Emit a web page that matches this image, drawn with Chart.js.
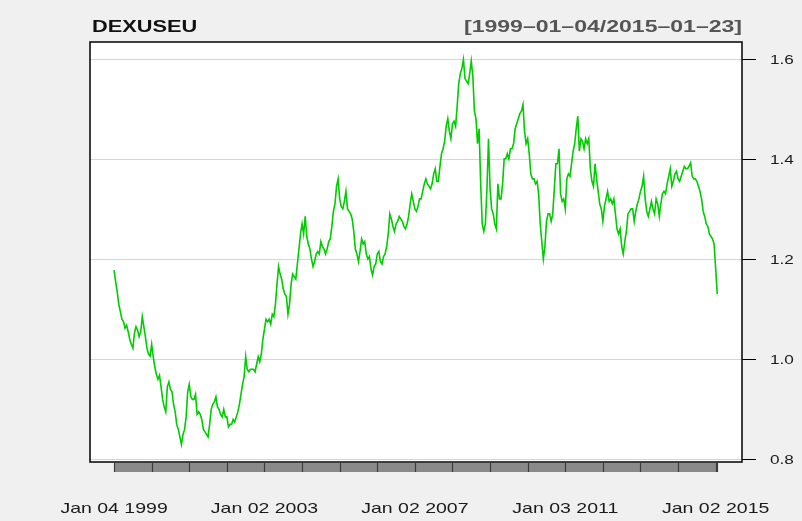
<!DOCTYPE html>
<html>
<head>
<meta charset="utf-8">
<script src="https://cdn.jsdelivr.net/npm/chart.js@4.4.1/dist/chart.umd.min.js"></script>
<style>
  body { margin: 0; background: #f0f0f0; }
  #wrap { width: 802px; height: 521px; }
</style>
</head>
<body>
<div id="wrap"><canvas id="myChart" width="802" height="521"></canvas></div>
<script>
// DEXUSEU, two readings per month (first half, second half)
const rate1999 = [1.178,1.155,1.135,1.110,1.095,1.080,1.075,1.062,1.068,1.055,1.040,1.030,1.022,1.052,1.065,1.058,1.045,1.055,1.085,1.065,1.045,1.022,1.010,1.006];
const rate2000 = [1.030,1.005,0.985,0.970,0.960,0.968,0.945,0.920,0.905,0.895,0.945,0.955,0.940,0.935,0.910,0.895,0.870,0.860,0.845,0.830,0.850,0.860,0.885,0.935];
const rate2001 = [0.950,0.925,0.920,0.920,0.930,0.890,0.895,0.890,0.880,0.860,0.855,0.850,0.845,0.870,0.900,0.910,0.915,0.925,0.905,0.900,0.890,0.885,0.900,0.885];
const rate2002 = [0.885,0.865,0.870,0.870,0.880,0.875,0.885,0.895,0.910,0.930,0.950,0.965,1.005,0.980,0.975,0.980,0.980,0.980,0.975,0.990,1.005,0.995,1.010,1.040];
const rate2003 = [1.060,1.080,1.075,1.080,1.070,1.090,1.085,1.110,1.150,1.185,1.170,1.160,1.140,1.130,1.125,1.090,1.110,1.150,1.170,1.165,1.160,1.190,1.220,1.250];
const rate2004 = [1.270,1.250,1.285,1.245,1.230,1.220,1.200,1.185,1.195,1.210,1.215,1.210,1.235,1.225,1.220,1.210,1.220,1.235,1.240,1.265,1.295,1.310,1.345,1.360];
const rate2005 = [1.320,1.305,1.300,1.315,1.335,1.300,1.295,1.290,1.280,1.255,1.220,1.210,1.195,1.215,1.240,1.230,1.235,1.210,1.200,1.205,1.180,1.168,1.185,1.190];
const rate2006 = [1.210,1.215,1.195,1.190,1.205,1.210,1.225,1.250,1.290,1.280,1.265,1.255,1.270,1.275,1.285,1.280,1.275,1.265,1.260,1.270,1.285,1.310,1.330,1.315];
const rate2007 = [1.300,1.295,1.305,1.320,1.320,1.335,1.350,1.360,1.350,1.345,1.340,1.350,1.370,1.380,1.355,1.355,1.385,1.410,1.420,1.435,1.465,1.480,1.455,1.440];
const rate2008 = [1.470,1.475,1.465,1.505,1.550,1.570,1.580,1.598,1.560,1.555,1.550,1.570,1.595,1.565,1.495,1.480,1.430,1.460,1.350,1.270,1.255,1.270,1.340,1.440];
const rate2009 = [1.340,1.300,1.290,1.270,1.260,1.350,1.320,1.320,1.350,1.400,1.400,1.410,1.400,1.420,1.420,1.430,1.460,1.470,1.480,1.490,1.495,1.508,1.455,1.430];
const rate2010 = [1.440,1.410,1.370,1.360,1.360,1.350,1.355,1.330,1.270,1.235,1.200,1.225,1.275,1.290,1.290,1.275,1.290,1.340,1.390,1.390,1.420,1.330,1.315,1.320];
const rate2011 = [1.300,1.360,1.370,1.365,1.390,1.415,1.430,1.460,1.485,1.415,1.440,1.435,1.420,1.440,1.430,1.440,1.380,1.355,1.345,1.390,1.360,1.335,1.310,1.300];
const rate2012 = [1.275,1.305,1.320,1.335,1.315,1.320,1.310,1.320,1.290,1.260,1.250,1.260,1.225,1.210,1.235,1.255,1.290,1.295,1.300,1.300,1.275,1.295,1.310,1.320];
const rate2013 = [1.335,1.345,1.365,1.320,1.295,1.285,1.300,1.315,1.300,1.290,1.320,1.310,1.285,1.310,1.330,1.335,1.330,1.350,1.365,1.380,1.345,1.355,1.370,1.375];
const rate2014 = [1.360,1.355,1.365,1.375,1.385,1.380,1.380,1.385,1.392,1.365,1.360,1.360,1.355,1.345,1.335,1.320,1.295,1.285,1.270,1.265,1.250,1.245,1.240,1.230];
const rate2015 = [1.180,1.130];

const startYear = 1999;
const stepsPerYear = 24;

const yTicks = [0.8, 1.0, 1.2, 1.4, 1.6];
const yTickLabels = ["0.8", "1.0", "1.2", "1.4", "1.6"];
const yearTicks = [1999,2000,2001,2002,2003,2004,2005,2006,2007,2008,2009,2010,2011,2012,2013,2014,2015];
const xLabelYears = [1999, 2003, 2007, 2011, 2015];
const xLabels = ["Jan 04 1999", "Jan 02 2003", "Jan 02 2007", "Jan 03 2011", "Jan 02 2015"];

const seriesName = "DEXUSEU";
const rangeText = "[1999\u201301\u201304/2015\u201301\u201323]";

const rates = [].concat(rate1999, rate2000, rate2001, rate2002, rate2003, rate2004, rate2005,
  rate2006, rate2007, rate2008, rate2009, rate2010, rate2011, rate2012, rate2013, rate2014, rate2015);
const points = rates.map((v, i) => ({ x: startYear + i / stepsPerYear, y: v }));
const lastX = points[points.length - 1].x;

const FONT = "'Liberation Sans', Arial, Helvetica, sans-serif";

// text in the reference is wide, so draw it stretched
const wideText = (ctx, text, x, y, font, color, align, baseline, sx) => {
  ctx.save();
  ctx.font = font;
  ctx.fillStyle = color;
  ctx.textAlign = align;
  ctx.textBaseline = baseline;
  ctx.translate(x, y);
  ctx.scale(sx, 1);
  ctx.fillText(text, 0, 0);
  ctx.restore();
};

const frame = {
  id: "frame",
  beforeDraw(chart) {
    const { ctx, chartArea: a, scales } = chart;
    ctx.save();
    ctx.fillStyle = "#f0f0f0";
    ctx.fillRect(0, 0, chart.width, chart.height);
    ctx.fillStyle = "#fff";
    ctx.fillRect(a.left, a.top, a.right - a.left, a.bottom - a.top);
    ctx.strokeStyle = "#d6d6d6";
    ctx.lineWidth = 1;
    yTicks.forEach((t) => {
      const y = Math.round(scales.y.getPixelForValue(t)) + 0.5;
      ctx.beginPath();
      ctx.moveTo(a.left, y);
      ctx.lineTo(a.right, y);
      ctx.stroke();
    });
    ctx.restore();
  },
  afterDraw(chart) {
    const { ctx, chartArea: a, scales } = chart;
    ctx.save();
    // box
    ctx.strokeStyle = "#000";
    ctx.lineWidth = 1.5;
    ctx.strokeRect(a.left, a.top, a.right - a.left, a.bottom - a.top);

    // right axis ticks + labels
    ctx.lineWidth = 1;
    yTicks.forEach((t, i) => {
      const y = Math.round(scales.y.getPixelForValue(t)) + 0.5;
      ctx.beginPath();
      ctx.moveTo(a.right, y);
      ctx.lineTo(a.right + 14, y);
      ctx.stroke();
      wideText(ctx, yTickLabels[i], a.right + 28, y + 1, "13px " + FONT, "#1a1a1a", "left", "middle", 1.32);
    });

    // gray time bar under the plot
    const x0 = scales.x.getPixelForValue(startYear);
    const x1 = scales.x.getPixelForValue(lastX);
    const barTop = a.bottom + 1;
    ctx.fillStyle = "#8a8a8a";
    ctx.fillRect(x0, barTop, x1 - x0, 9);
    ctx.strokeStyle = "#3c3c3c";
    ctx.lineWidth = 1.2;
    yearTicks.concat([lastX]).forEach((yr) => {
      const x = Math.round(scales.x.getPixelForValue(yr)) + 0.5;
      ctx.beginPath();
      ctx.moveTo(x, barTop);
      ctx.lineTo(x, barTop + 9);
      ctx.stroke();
    });

    // x labels
    xLabelYears.forEach((yr, i) => {
      wideText(ctx, xLabels[i], scales.x.getPixelForValue(yr), 513, "15px " + FONT, "#1a1a1a", "center", "alphabetic", 1.3);
    });

    // titles
    wideText(ctx, seriesName, 92, 32, "bold 16px " + FONT, "#111", "left", "alphabetic", 1.36);
    wideText(ctx, rangeText, a.right, 32, "bold 16px " + FONT, "#555", "right", "alphabetic", 1.44);
    ctx.restore();
  },
};

const ctx = document.getElementById("myChart");

const myChart = new Chart(ctx, {
  type: "line",
  data: {
    datasets: [
      {
        label: seriesName,
        data: points,
        borderColor: "#00cc00",
        borderWidth: 1.6,
        pointRadius: 0,
        tension: 0,
      },
    ],
  },
  options: {
    responsive: false,
    animation: false,
    layout: { padding: { left: 90, top: 42, right: 60, bottom: 59 } },
    plugins: { legend: { display: false }, tooltip: { enabled: false } },
    scales: {
      x: { type: "linear", display: false, min: 1998.36, max: 2015.70 },
      y: { type: "linear", display: false, min: 0.795, max: 1.633 },
    },
  },
  plugins: [frame],
});
</script>
</body>
</html>
